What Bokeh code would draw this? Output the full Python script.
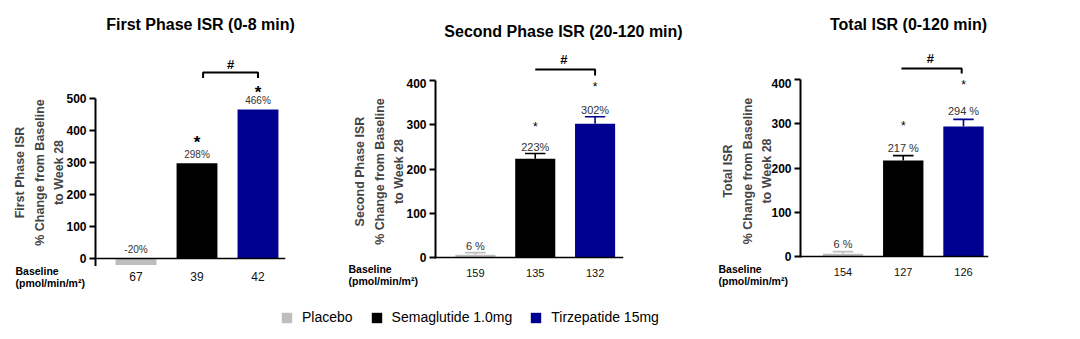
from bokeh.plotting import figure
from bokeh.models import ColumnDataSource, Range1d, FixedTicker, Span
from bokeh.layouts import row, column
from bokeh.embed import file_html
from bokeh.resources import INLINE
from bokeh.core.properties import value

# ---------------- data ----------------
groups = ["Placebo", "Semaglutide 1.0mg", "Tirzepatide 15mg"]
colors = ["#BEBEBE", "#000000", "#000091"]

first_vals = [-20, 298, 466]
first_err = [0, 0, 0]
first_labels = ["-20%", "298%", "466%"]
first_base = ["67", "39", "42"]

second_vals = [6, 223, 302]
second_err = [5, 12, 16]
second_labels = ["6 %", "223%", "302%"]
second_base = ["159", "135", "132"]

total_vals = [6, 217, 294]
total_err = [5, 11, 16]
total_labels = ["6 %", "217 %", "294 %"]
total_base = ["154", "127", "126"]

FONT = "Liberation Sans"
TOP_H = 78      # height of the title strip above each chart frame
ROW_H = 300


def noalign(p):
    try:
        p.frame_align = False
    except Exception:
        pass


def strip(w, h, xr):
    s = figure(width=w, height=h, output_backend="svg", toolbar_location=None,
               x_range=Range1d(*xr), y_range=Range1d(h, 0), min_border=0,
               x_axis_location=None, y_axis_location=None)
    s.outline_line_color = None
    s.grid.visible = False
    s.background_fill_color = "white"
    s.border_fill_color = "white"
    noalign(s)
    return s


def make_panel(title, ylabel, vals, errs, labels, base, c):
    idx = list(range(len(vals)))
    W, bl, br = c["w"], c["bl"], c["br"]
    z, fb, s = c["zero"], c["fbot"], c["scale"]
    xr0, xr1 = c["xr"]
    ppu = (W - bl - br) / (xr1 - xr0)
    sx = (xr0 - bl / ppu, xr1 + br / ppu)     # full-width range for the strips
    def gx(px):
        return xr0 + (px - bl) / ppu

    main_h = fb - TOP_H
    y0 = -(fb - z) / s
    y1 = (z - TOP_H) / s

    # ---------- main chart ----------
    p = figure(width=W, height=main_h, output_backend="svg", toolbar_location=None,
               x_range=Range1d(xr0, xr1), y_range=Range1d(y0, y1),
               min_border_left=bl, min_border_right=br, min_border_top=0, min_border_bottom=0,
               x_axis_location=None)
    noalign(p)
    p.outline_line_color = None
    p.grid.visible = False
    p.background_fill_color = "white"
    p.border_fill_color = "white"

    ya = p.yaxis[0]
    ya.bounds = (c["ybot"], c["ymax"])
    ya.ticker = FixedTicker(ticks=list(range(0, c["ymax"] + 1, 100)))
    ya.axis_line_width = 2
    ya.major_tick_line_width = 2
    ya.major_tick_out = 6
    ya.major_tick_in = 0
    ya.minor_tick_line_color = None
    ya.major_label_text_font = FONT
    ya.major_label_text_font_style = "bold"
    ya.major_label_text_font_size = "12px"
    ya.major_label_text_color = "#000000"
    ya.major_label_standoff = 3
    ya.axis_label = ylabel
    ya.axis_label_text_font = FONT
    ya.axis_label_text_font_style = "bold"
    ya.axis_label_text_font_size = "12.5px"
    ya.axis_label_text_line_height = 1.4
    ya.axis_label_standoff = c["lstand"]

    src = ColumnDataSource(dict(x=idx, top=vals, color=colors))
    p.vbar(x="x", top="top", bottom=0, width=0.67, fill_color="color",
           line_color=None, source=src)

    p.add_layout(Span(location=0, dimension="width", line_color="black", line_width=1.5))

    if any(errs):
        tops = [v + e for v, e in zip(vals, errs)]
        esrc = ColumnDataSource(dict(x=idx, y0=vals, y1=tops,
                                     xl=[i - 0.17 for i in idx], xr=[i + 0.17 for i in idx],
                                     color=colors))
        p.segment(x0="x", y0="y0", x1="x", y1="y1", line_color="color", line_width=1.6, source=esrc)
        p.segment(x0="xl", y0="y1", x1="xr", y1="y1", line_color="color", line_width=1.6, source=esrc)

    anchor = [max(v, 0) + e for v, e in zip(vals, errs)]
    lsrc = ColumnDataSource(dict(x=idx, y=anchor, t=labels))
    p.text(x="x", y="y", text="t", source=lsrc, text_align="center", text_baseline="middle",
           y_offset=c["loff"], text_font=value(FONT), text_font_size=c["lfs"],
           text_color="#333333")

    ssrc = ColumnDataSource(dict(x=idx[1:], y=anchor[1:], t=["*"] * 2, off=c["soff"]))
    p.text(x="x", y="y", text="t", source=ssrc, text_align="center", text_baseline="middle",
           y_offset="off", text_font=value(FONT), text_font_size=c["sfs"],
           text_font_style=c["sfstyle"], text_color="#000000")

    # ---------- top strip: title, bracket, # ----------
    t = strip(W, TOP_H, sx)
    t.text(x=[gx(c["title"][0])], y=[c["title"][1]], text=[title], text_align="center",
           text_baseline="middle", text_font=value(FONT), text_font_size="16px",
           text_font_style="bold", text_color="#000000")
    bxs, bys = c["bracket"]
    t.line(x=bxs, y=bys, line_color="black", line_width=2)
    t.text(x=[c["hash"][0]], y=[c["hash"][1]], text=["#"], text_align="center",
           text_baseline="middle", text_font=value(FONT), text_font_size="13px",
           text_font_style="bold", text_color="#000000")

    # ---------- bottom strip: baseline values ----------
    bh = ROW_H - fb
    b = strip(W, bh, sx)
    bsrc = ColumnDataSource(dict(x=idx, y=[c["valy"]] * len(idx), t=base))
    b.text(x="x", y="y", text="t", source=bsrc, text_align="center", text_baseline="middle",
           text_font=value(FONT), text_font_size=c["xfs"], text_color="#111111")
    cy1, cy2 = c["capy"]
    b.text(x=[gx(c["capx"])] * 2, y=[cy1, cy2], text=["Baseline", "(pmol/min/m\u00b2)"],
           text_align="left", text_baseline="middle", text_font=value(FONT),
           text_font_size="10.5px", text_font_style="bold", text_color="#000000")

    col = column(t, p, b, spacing=0)
    return col


p1 = make_panel("First Phase ISR (0-8 min)",
                "First Phase ISR\n% Change from Baseline\nto Week 28",
                first_vals, first_err, first_labels, first_base,
                dict(w=340, bl=95, br=55, xr=(-0.664, 2.451), zero=258, fbot=266, scale=0.32,
                     ybot=-25, ymax=500, lstand=-3, xfs="12px", loff=-9, lfs="10px",
                     soff=[-21, -17], sfs="17px", sfstyle="bold",
                     bracket=([1.1, 1.1, 2.0, 2.0], [78, 72, 72, 78]),
                     hash=(1.55, 64), title=(200, 24),
                     valy=10, capx=15, capy=(4.5, 16)))

p2 = make_panel("Second Phase ISR (20-120 min)",
                "Second Phase ISR\n% Change from Baseline\nto Week 28",
                second_vals, second_err, second_labels, second_base,
                dict(w=360, bl=95, br=77, xr=(-0.667, 2.475), zero=257, fbot=264, scale=0.4425,
                     ybot=-2, ymax=400, lstand=-3, xfs="11px", loff=-7, lfs="11px",
                     soff=[-27, -30], sfs="12px", sfstyle="normal",
                     bracket=([1.0, 2.0, 2.0], [69, 69, 75]),
                     hash=(1.48, 59), title=(223, 31),
                     valy=8, capx=8, capy=(4.5, 16.5)))

p3 = make_panel("Total ISR (0-120 min)",
                "Total ISR\n% Change from Baseline\nto Week 28",
                total_vals, total_err, total_labels, total_base,
                dict(w=380, bl=100, br=92, xr=(-0.705, 2.415), zero=256, fbot=263, scale=0.4425,
                     ybot=-2, ymax=400, lstand=-6, xfs="11px", loff=-8, lfs="11px",
                     soff=[-30, -34], sfs="12px", sfstyle="normal",
                     bracket=([0.97, 1.97, 1.97], [68, 68, 73]),
                     hash=(1.45, 58), title=(208, 24),
                     valy=8, capx=18, capy=(5, 17)))

# ---------- legend strip ----------
pl = figure(width=1080, height=39, output_backend="svg", toolbar_location=None,
            x_range=Range1d(0, 1), y_range=Range1d(0, 1), min_border=0,
            x_axis_location=None, y_axis_location=None)
noalign(pl)
pl.outline_line_color = None
pl.grid.visible = False
# dummy renderers (outside the visible range) that only feed the legend
for g, c in zip(groups, colors):
    pl.vbar(x=[5], top=[1], width=0.1, fill_color=c, line_color=None, legend_label=g)
lg = pl.legend[0]
lg.orientation = "horizontal"
lg.location = (280, 14)
lg.glyph_width = 13
lg.glyph_height = 13
lg.label_height = 13
lg.label_standoff = 9
lg.spacing = 17
lg.padding = 0
lg.margin = 0
lg.border_line_alpha = 0
lg.background_fill_alpha = 0
lg.label_text_font = FONT
lg.label_text_font_size = "14px"
lg.label_text_color = "#000000"

layout = column(row(p1, p2, p3, spacing=0), pl, spacing=0)
open("out.html", "w").write(file_html(layout, INLINE))
